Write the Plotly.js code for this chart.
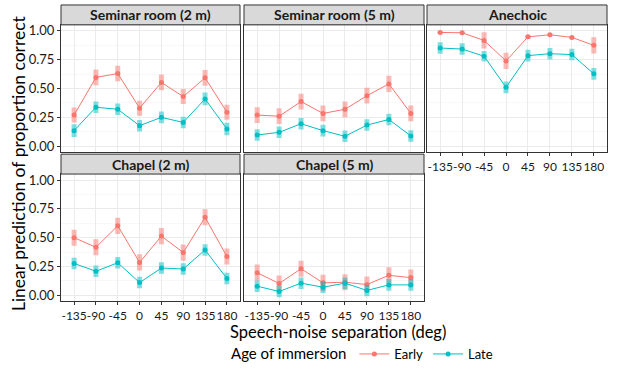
<!DOCTYPE html>
<html>
<head>
<meta charset="utf-8">
<script src="https://cdn.plot.ly/plotly-3.0.1.min.js"></script>
<style>html,body{margin:0;padding:0;background:#fff;}#chart{width:619px;height:369px;}</style>
</head>
<body>
<div id="chart"></div>
<script>
// ---- data ----
const angles = ['-135', '-90', '-45', '0', '45', '90', '135', '180'];
const panelNames = ['Seminar room (2 m)', 'Seminar room (5 m)', 'Anechoic', 'Chapel (2 m)', 'Chapel (5 m)'];
const groups = ['Early', 'Late'];

const earlySem2 = [0.27, 0.596, 0.63, 0.33, 0.553, 0.43, 0.593, 0.295];
const lateSem2  = [0.135, 0.338, 0.32, 0.178, 0.25, 0.206, 0.41, 0.149];
const earlySem5 = [0.27, 0.26, 0.387, 0.284, 0.32, 0.438, 0.54, 0.284];
const lateSem5  = [0.097, 0.12, 0.195, 0.135, 0.086, 0.183, 0.232, 0.089];
const earlyAne  = [0.986, 0.983, 0.917, 0.739, 0.948, 0.966, 0.943, 0.874];
const lateAne   = [0.851, 0.842, 0.78, 0.51, 0.785, 0.802, 0.794, 0.627];
const earlyCh2  = [0.50, 0.417, 0.603, 0.286, 0.514, 0.371, 0.677, 0.337];
const lateCh2   = [0.277, 0.209, 0.283, 0.111, 0.237, 0.229, 0.394, 0.146];
const earlyCh5  = [0.197, 0.103, 0.231, 0.109, 0.114, 0.094, 0.174, 0.154];
const lateCh5   = [0.08, 0.034, 0.106, 0.071, 0.106, 0.043, 0.091, 0.091];

// half-widths of the confidence intervals
const errEarlySem2 = [0.065, 0.068, 0.068, 0.065, 0.068, 0.065, 0.068, 0.065];
const errLateSem2  = [0.055, 0.05, 0.05, 0.05, 0.05, 0.05, 0.055, 0.055];
const errEarlySem5 = [0.068, 0.068, 0.068, 0.068, 0.068, 0.068, 0.07, 0.068];
const errLateSem5  = [0.05, 0.05, 0.05, 0.05, 0.05, 0.05, 0.05, 0.05];
const errEarlyAne  = [0.012, 0.01, 0.07, 0.07, 0.015, 0.008, 0.012, 0.07];
const errLateAne   = [0.05, 0.05, 0.045, 0.05, 0.05, 0.05, 0.05, 0.05];
const errEarlyCh2  = [0.07, 0.07, 0.07, 0.07, 0.07, 0.07, 0.07, 0.07];
const errLateCh2   = [0.05, 0.05, 0.05, 0.05, 0.05, 0.05, 0.05, 0.05];
const errEarlyCh5  = [0.07, 0.07, 0.07, 0.07, 0.07, 0.07, 0.07, 0.07];
const errLateCh5   = [0.05, 0.05, 0.05, 0.05, 0.05, 0.05, 0.05, 0.05];

const yTicks = [0, 0.25, 0.5, 0.75, 1.0];
const yTickText = ['0.00', '0.25', '0.50', '0.75', '1.00'];

const earlySeries = [earlySem2, earlySem5, earlyAne, earlyCh2, earlyCh5];
const lateSeries  = [lateSem2, lateSem5, lateAne, lateCh2, lateCh5];
const earlyErr = [errEarlySem2, errEarlySem5, errEarlyAne, errEarlyCh2, errEarlyCh5];
const lateErr  = [errLateSem2, errLateSem5, errLateAne, errLateCh2, errLateCh5];

// ---- style ----
const colEarly = '#F8766D', colLate = '#00BFC4';
const errEarlyCol = 'rgba(248,118,109,0.5)', errLateCol = 'rgba(0,191,196,0.5)';
const W = 619, H = 369;
const FONT = 'Lato, "Open Sans", sans-serif';

// panel pixel boxes
const cols = [[61, 240], [244, 424], [427, 607]];
const rows = [[25, 153], [175, 303]];
const panelPos = [[0, 0], [0, 1], [0, 2], [1, 0], [1, 1]];
const showX = [false, false, true, true, true];
const showY = [true, false, false, true, false];

const traces = [];
const layout = {
  width: W, height: H,
  margin: {l: 0, r: 0, t: 0, b: 0},
  paper_bgcolor: '#fff', plot_bgcolor: '#fff',
  font: {family: FONT, color: '#000', size: 12},
  showlegend: true,
  legend: {
    orientation: 'h', x: 0.37, xanchor: 'left', y: 0.035, yanchor: 'middle',
    title: {text: 'Age of immersion', font: {size: 15, family: FONT}, side: 'left'},
    font: {size: 13, family: FONT}, itemwidth: 30, bgcolor: 'rgba(0,0,0,0)'
  },
  shapes: [], annotations: []
};

panelNames.forEach((name, i) => {
  const [r, c] = panelPos[i];
  const sfx = i === 0 ? '' : String(i + 1);
  const xa = 'x' + sfx, ya = 'y' + sfx;
  const xd = [cols[c][0] / W, cols[c][1] / W];
  const yd = [1 - rows[r][1] / H, 1 - rows[r][0] / H];

  layout['xaxis' + sfx] = {
    domain: xd, anchor: ya, type: 'category', range: [-0.6, 7.6],
    categoryorder: 'array', categoryarray: angles,
    showgrid: true, gridcolor: '#EBEBEB', gridwidth: 1,
    zeroline: false, showline: true, mirror: true, linecolor: '#333', linewidth: 1,
    ticks: showX[i] ? 'outside' : '', ticklen: 3, tickcolor: '#333',
    tickangle: 0,
    showticklabels: showX[i], tickfont: {size: 12, color: '#1a1a1a', family: FONT},
    fixedrange: true
  };
  layout['yaxis' + sfx] = {
    domain: yd, anchor: xa, range: [-0.0517, 1.0517],
    tickvals: yTicks, ticktext: yTickText,
    showgrid: true, gridcolor: '#EBEBEB', gridwidth: 1,
    minor: {tickvals: [0.125, 0.375, 0.625, 0.875], showgrid: true, gridcolor: '#F4F4F4', gridwidth: 0.6, ticks: ''},
    zeroline: false, showline: true, mirror: true, linecolor: '#333', linewidth: 1,
    ticks: showY[i] ? 'outside' : '', ticklen: 3, tickcolor: '#333',
    showticklabels: showY[i], tickfont: {size: 13, color: '#1a1a1a', family: FONT},
    fixedrange: true
  };

  // strip
  layout.shapes.push({
    type: 'rect', xref: 'paper', yref: 'paper',
    x0: xd[0], x1: xd[1], y0: 1 - rows[r][0] / H, y1: 1 - (rows[r][0] - 20) / H,
    fillcolor: '#D9D9D9', line: {color: '#333', width: 1}
  });
  layout.annotations.push({
    xref: 'paper', yref: 'paper', x: (xd[0] + xd[1]) / 2, y: 1 - (rows[r][0] - 10) / H,
    text: '<b>' + name + '</b>', showarrow: false, xanchor: 'center', yanchor: 'middle',
    font: {size: 14, family: FONT, color: '#1a1a1a'}
  });

  const mk = (label, vals, errs, col, ecol) => ({
    type: 'scatter', mode: 'lines+markers', name: label,
    x: angles, y: vals, xaxis: xa, yaxis: ya,
    legendgroup: label, showlegend: i === 0,
    line: {color: col, width: 1},
    marker: {color: col, size: 5},
    error_y: {type: 'data', array: errs, visible: true, thickness: 5, width: 0, color: ecol},
    hoverinfo: 'skip'
  });
  traces.push(mk(groups[0], earlySeries[i], earlyErr[i], colEarly, errEarlyCol));
  traces.push(mk(groups[1], lateSeries[i], lateErr[i], colLate, errLateCol));
});

// axis titles
layout.annotations.push({
  xref: 'paper', yref: 'paper', x: 18 / W, y: 1 - 164 / H, textangle: -90,
  text: 'Linear prediction of proportion correct', showarrow: false,
  xanchor: 'center', yanchor: 'middle', font: {size: 17.5, family: FONT, color: '#000'}
});
layout.annotations.push({
  xref: 'paper', yref: 'paper', x: 338 / W, y: 1 - 334 / H,
  text: 'Speech-noise separation (deg)', showarrow: false,
  xanchor: 'center', yanchor: 'middle', font: {size: 16.5, family: FONT, color: '#000'}
});

Plotly.newPlot('chart', traces, layout, {displayModeBar: false, staticPlot: true});
</script>
</body>
</html>
